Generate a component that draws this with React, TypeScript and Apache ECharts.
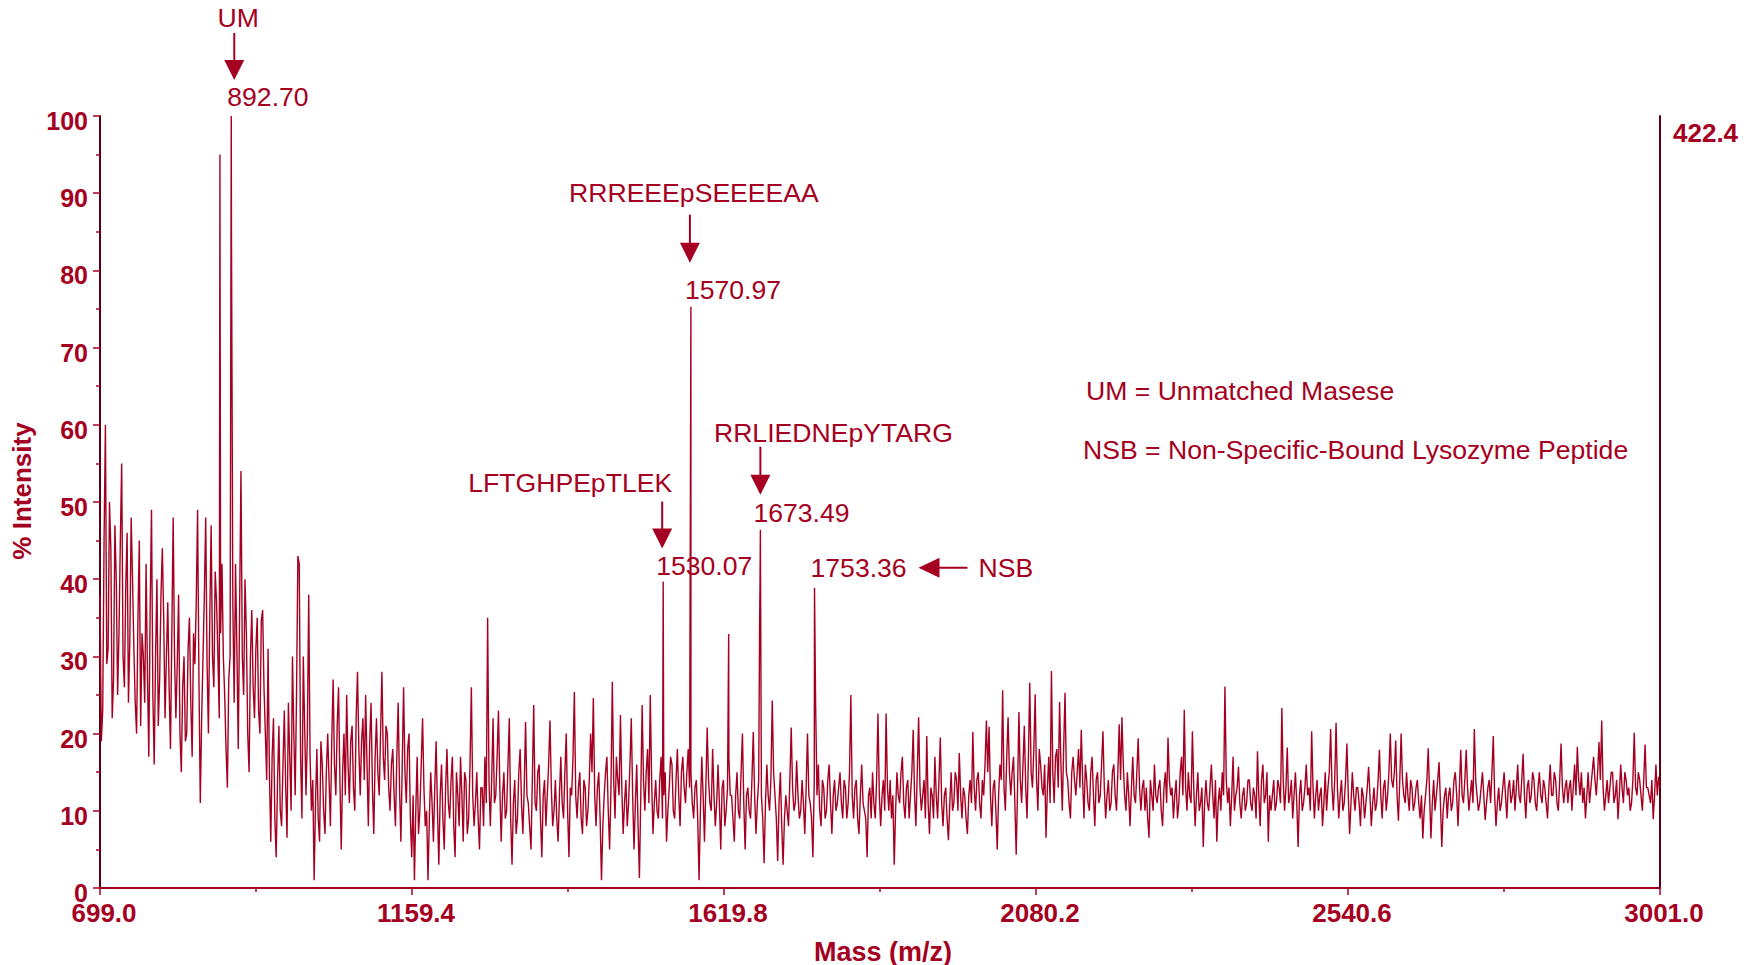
import { useEffect, useRef } from 'react';
import * as echarts from 'echarts';

// Spectrum sampling: two interleaved grids, 699 + 4k and 701 + 4k (m/z)
const GRID_A_START = 699;
const GRID_B_START = 701;
const GRID_STEP = 4;
const MASS_MIN = 699.0;
const MASS_MAX = 3001.0;
const MASS_TICK = 460.4;
const FULL_SCALE_COUNTS = 422.4;

// % intensity on grid A, 699 – 1079 m/z
const gridA699 = [
  38, 23, 60, 31, 44, 27, 40, 33, 55, 26, 46, 32,
  40, 24, 35, 21, 30, 42, 17, 49, 16, 40, 27, 44,
  22, 37, 18, 48, 22, 38, 15, 30, 20, 35, 17, 29,
  49, 11, 30, 48, 20, 47, 26, 37, 22, 42, 25, 13,
  30, 37, 42, 18, 54, 25, 33, 15, 36, 22, 35, 20,
  36, 20, 31, 6, 22, 4, 21, 8, 23, 6.5, 17, 30,
  12, 43, 17, 30, 12, 38, 10, 1, 18, 6, 16, 7,
  20, 8, 27, 12, 26, 5, 20, 25, 11, 21, 10, 28,
];
// grid A, 1083 – 1463 m/z
const gridA1083 = [
  12, 22, 25, 8, 24, 7, 22, 12, 28, 14, 20, 10,
  18, 8, 24, 6, 26, 11, 20, 4, 1, 17, 10, 22,
  8, 1, 15, 6, 19, 3, 16, 5, 18, 9, 17, 4,
  12, 17, 6, 14, 9, 26, 8, 15, 5, 13, 17, 35,
  8, 22, 12, 23, 6, 15, 10, 22, 3, 14, 9, 18,
  7, 21.5, 11, 5, 23.7, 10, 16, 4, 14, 12, 21.7, 8,
  14, 6, 17, 9, 20, 4, 12, 25.4, 9, 15, 7, 13,
  10, 20, 24.6, 8, 15, 1, 12, 17, 5, 26.7, 9, 14,
];
// grid A, 1467 – 1847 m/z
const gridA1467 = [
  22.4, 7, 14, 11, 22, 5, 16, 1.3, 23.7, 10, 18, 25,
  7, 14, 9, 17, 12, 6, 13, 16, 9, 18, 8, 17,
  11, 18, 15, 9, 14, 1, 17, 6, 20.8, 11, 18, 8,
  16, 5, 14, 10, 17, 12, 6, 15, 9, 20, 5, 13,
  9, 20.2, 7, 14, 12, 3.2, 16, 10, 24.3, 12, 3.5, 15,
  3, 12, 8, 20.8, 10, 16.5, 9, 14, 7, 20, 11, 4,
  23.9, 16, 8, 13, 10, 16, 7, 14, 11, 15, 9, 13,
  11, 25, 9, 14, 7, 16, 10, 4, 13, 15, 9, 22.6,
];
// grid A, 1851 – 2231 m/z
const gridA1851 = [
  8, 14, 22.6, 10, 9, 3, 15, 11, 17, 9, 14, 12,
  20.5, 8, 22.1, 10, 14, 19.7, 7, 12, 17, 9, 19.5, 8,
  13, 6.2, 15, 11, 14, 17.5, 9, 12, 7, 14, 20.2, 10,
  15, 9, 12, 21.7, 20.9, 8, 14, 5, 16, 25.6, 10, 22.1,
  12, 17, 4.3, 22.8, 11, 21, 9, 26.6, 13, 25.1, 10, 16,
  12, 6.5, 17, 28.1, 11, 18, 24.1, 10, 25.3, 14, 9, 17,
  12, 18, 20.5, 9, 14, 10, 17, 8, 15, 12, 20.3, 9,
  14, 11, 16, 10, 21.2, 22.1, 12, 15, 8, 17, 11, 19.4,
];
// grid A, 2235 – 2615 m/z
const gridA2235 = [
  10, 14, 13, 6.5, 12, 16, 11, 14, 8, 15, 19.5, 12,
  9, 14, 11, 17, 23.1, 10, 12, 20.3, 8, 15, 11, 5.3,
  14, 10, 16, 9, 6, 13, 15, 26.1, 11, 8, 17, 12,
  15.7, 9, 13, 11, 14, 10, 12, 17.7, 8, 16, 12, 6,
  10, 14, 11, 13, 23.3, 10, 18.2, 12, 9, 15, 5.3, 14,
  11, 16, 13, 20.3, 9, 14, 12, 8, 15, 13, 20.6, 10,
  21.4, 9, 14, 11, 18.7, 7, 15, 10, 13, 8, 12, 11,
  15.7, 8, 13, 11, 17.9, 9, 14, 12, 20, 13, 19.1, 8.7,
];
// grid A, 2619 – 2999 m/z
const gridA2619 = [
  20, 12, 15, 10, 13, 11, 14, 9, 6.4, 12, 18.1, 6.4,
  14, 12, 16.3, 5.3, 12, 9, 13, 11, 15, 8, 17.9, 11,
  17.9, 10, 14, 20.6, 12, 11, 15, 8.8, 13, 11, 19.7, 8,
  13, 11, 15, 9, 14, 12, 10, 16, 11, 17.4, 9, 14,
  12, 14, 10, 15, 11, 13, 9, 16, 12, 14, 10, 18.7,
  11, 14, 13, 10, 16, 18.3, 12, 11, 9, 15, 13, 17,
  12, 18.9, 21.7, 10, 14, 13, 15, 12, 8.9, 16, 11, 14,
  13, 11, 20.1, 12, 14, 10, 18.6, 13, 11, 8.9, 16, 14.4,
];

// % intensity on grid B, 701 – 1081 m/z
const gridB701 = [
  19, 45, 29, 50, 22, 47, 25, 45, 30, 39, 24, 48,
  31, 20, 45, 33, 24, 28, 36, 25, 30, 21, 38, 35,
  30, 26, 33, 30, 29, 20, 26, 19, 31, 24, 33, 37,
  27, 22, 38, 29, 35, 30, 41, 30, 33, 30, 18, 27,
  85, 24, 31, 36, 30, 40, 20, 30, 26, 31, 23, 34.6,
  26, 14, 15, 17, 9, 14, 10, 16, 13, 24, 10, 20,
  25, 42, 9, 21, 20, 17, 14, 11, 9, 19, 10, 15,
  14, 19, 16, 21, 14, 15, 12, 16, 19, 13, 22, 18,
];
// grid B, 1085 – 1465 m/z
const gridB1085 = [
  19, 14, 16, 19, 13, 17, 15, 20, 17, 21, 13, 16,
  12, 17, 13, 16, 15, 18, 9, 12, 10, 7, 16, 13,
  10, 9, 11, 13, 10, 12, 9, 13, 11, 14, 8, 15,
  8, 12, 15, 7, 16, 12, 11, 9, 13, 8, 11, 14,
  14, 11, 17, 13, 12, 9, 16, 9, 11, 7, 15, 11,
  13, 12, 8, 14, 11, 15, 9, 12, 8, 16, 13, 10,
  9, 12, 11, 15, 10, 13, 17, 12, 13, 9, 14, 8,
  14, 15, 12, 13, 9, 8, 15, 10, 13, 14, 17, 12,
];
// grid B, 1469 – 1849 m/z
const gridB1469 = [
  13, 11, 8, 16, 12, 11, 8, 12, 14, 15, 11, 14,
  11, 10, 14, 9, 15, 10, 17, 10, 14, 12, 15, 13,
  15, 13, 11, 13, 9, 10, 12, 13, 14, 10, 12, 11,
  11, 13, 8, 13, 12, 9, 12, 10, 15, 11, 12, 10,
  14, 12, 11, 40, 9, 11, 12, 14, 15, 9, 11, 8,
  9, 10, 14, 13, 11, 12, 10, 11, 13, 12, 9, 14,
  12, 10, 14, 9, 14, 11, 12, 10, 13, 11, 14, 9,
  15, 12, 13, 9, 12, 11, 9, 12, 9, 11, 14, 12,
];
// grid B, 1853 – 2233 m/z
const gridB1853 = [
  12, 10, 13, 14, 12, 10, 12, 15, 11, 13, 9, 15,
  12, 15, 13, 12, 9, 11, 13, 9, 12, 14, 11, 12,
  9, 11, 10, 15, 10, 12, 13, 9, 12, 11, 13, 14,
  11, 14, 16, 15, 12, 13, 10, 12, 14, 13, 17, 15,
  15, 11, 13, 14, 16, 13, 17, 15, 18, 14, 18, 13,
  16, 13, 11, 15, 17, 13, 16, 18, 15, 11, 15, 14,
  15, 13, 14, 16, 11, 15, 12, 14, 11, 16, 13, 12,
  10, 15, 12, 15, 14, 16, 10, 12, 13, 12, 15, 13,
];
// grid B, 2237 – 2617 m/z
const gridB2237 = [
  13, 10, 9, 14, 10, 12, 13, 10, 13, 11, 14, 13,
  12, 9, 15, 12, 13, 15, 11, 13, 12, 10, 13, 11,
  11, 13, 12, 14, 11, 10, 12, 14, 13, 12, 10, 13,
  11, 12, 10, 14, 11, 13, 9, 12, 14, 11, 15, 12,
  12, 10, 14, 11, 14, 13, 11, 14, 12, 11, 12, 10,
  13, 12, 10, 13, 12, 10, 13, 11, 10, 15, 13, 14,
  13, 12, 10, 14, 12, 11, 12, 13, 11, 13, 9, 13,
  12, 11, 10, 14, 12, 13, 10, 15, 14, 15, 12, 14,
];
// grid B, 2621 – 3001 m/z
const gridB2621 = [
  14, 11, 12, 14, 10, 13, 11, 12, 10, 14, 12, 11,
  10, 14, 11, 10, 13, 12, 10, 14, 12, 13, 12, 14,
  13, 12, 11, 14, 10, 13, 12, 11, 14, 15, 12, 11,
  10, 13, 12, 13, 11, 14, 13, 12, 14, 12, 13, 11,
  15, 11, 13, 12, 14, 11, 13, 12, 15, 11, 14, 13,
  13, 11, 14, 13, 12, 14, 15, 13, 12, 11, 15, 14,
  15, 14, 13, 12, 11, 15, 11, 14, 12, 13, 15, 12,
  10, 14, 13, 15, 12, 14, 13, 12, 14, 12, 12, 13,
];

// Unlabelled sharp peaks: [m/z, % intensity]
const extraPeaks: [number, number][] = [
  [876.0, 95],
  [1626.7, 32.9],
  [1672.4, 34.7],
];

// Annotated peaks
const peakMasses = [892.7, 1570.97, 1530.07, 1673.49, 1753.36];
const peakIntensities = [100, 75.3, 39.7, 46.4, 38.9];
const peakNames = ['UM', 'RRREEEpSEEEEAA', 'LFTGHPEpTLEK', 'RRLIEDNEpYTARG', 'NSB'];

const legendLines = ['UM = Unmatched Masese', 'NSB = Non-Specific-Bound Lysozyme Peptide'];

const RED = '#a50021';
const DARK = '#5a0012';
const FONT = '"Liberation Sans", Arial, Helvetica, sans-serif';
const NOTE_SIZE = 26.6;

// Callout geometry relative to each peak's apex (pixels)
type Callout = {
  valueDx: number;
  valueDy: number;
  arrow: { dir: 'down'; dx: number; top: number; tip: number } | { dir: 'left'; dy: number; tip: number; tail: number };
  nameDx: number;
  nameDy: number;
  nameAlign: 'left' | 'center';
};
const calloutLayout: Callout[] = [
  { valueDx: -4, valueDy: -19, arrow: { dir: 'down', dx: 3, top: -83, tip: -36 }, nameDx: 7, nameDy: -98, nameAlign: 'center' },
  { valueDx: -6, valueDy: -17, arrow: { dir: 'down', dx: -1, top: -92, tip: -44 }, nameDx: 3, nameDy: -114, nameAlign: 'center' },
  { valueDx: -7, valueDy: -16, arrow: { dir: 'down', dx: -1, top: -80, tip: -33 }, nameDx: -93, nameDy: -99, nameAlign: 'center' },
  { valueDx: -7, valueDy: -17, arrow: { dir: 'down', dx: 0, top: -83, tip: -35 }, nameDx: 73, nameDy: -97, nameAlign: 'center' },
  { valueDx: -4, valueDy: -20, arrow: { dir: 'left', dy: -20, tip: 104, tail: 153 }, nameDx: 164, nameDy: -20, nameAlign: 'left' },
];

function buildSpectrum(): [number, number][] {
  const gridA = [...gridA699, ...gridA1083, ...gridA1467, ...gridA1851, ...gridA2235, ...gridA2619];
  const gridB = [...gridB701, ...gridB1085, ...gridB1469, ...gridB1853, ...gridB2237, ...gridB2621];
  const pts: [number, number][] = [];
  gridA.forEach((v, i) => pts.push([GRID_A_START + i * GRID_STEP, v]));
  gridB.forEach((v, i) => pts.push([GRID_B_START + i * GRID_STEP, v]));
  extraPeaks.forEach((p) => pts.push([p[0], p[1]]));
  peakMasses.forEach((m, i) => pts.push([m, peakIntensities[i]]));
  pts.sort((a, b) => a[0] - b[0]);
  return pts;
}

function buildCallouts(chart: echarts.ECharts) {
  const els: any[] = [];
  const textStyle = { fill: RED, fontSize: NOTE_SIZE, fontFamily: FONT };
  peakMasses.forEach((m, i) => {
    const [px, py] = chart.convertToPixel({ xAxisIndex: 0, yAxisIndex: 0 }, [m, peakIntensities[i]]) as number[];
    const L = calloutLayout[i];
    els.push({
      type: 'text',
      x: px + L.valueDx,
      y: py + L.valueDy,
      style: { ...textStyle, text: m.toFixed(2), align: 'left', verticalAlign: 'middle' },
    });
    els.push({
      type: 'text',
      x: px + L.nameDx,
      y: py + L.nameDy,
      style: { ...textStyle, text: peakNames[i], align: L.nameAlign, verticalAlign: 'middle' },
    });
    const a = L.arrow;
    if (a.dir === 'down') {
      const ax = px + a.dx;
      const tip = py + a.tip;
      els.push({ type: 'line', shape: { x1: ax, y1: py + a.top, x2: ax, y2: tip - 16 }, style: { stroke: RED, lineWidth: 2 } });
      els.push({ type: 'polygon', shape: { points: [[ax - 10, tip - 20], [ax + 10, tip - 20], [ax, tip]] }, style: { fill: RED } });
    } else {
      const ay = py + a.dy;
      const tip = px + a.tip;
      els.push({ type: 'line', shape: { x1: tip + 16, y1: ay, x2: px + a.tail, y2: ay }, style: { stroke: RED, lineWidth: 2 } });
      els.push({ type: 'polygon', shape: { points: [[tip, ay], [tip + 21, ay - 10], [tip + 21, ay + 10]] }, style: { fill: RED } });
    }
  });
  legendLines.forEach((t, i) => {
    els.push({
      type: 'text',
      x: i === 0 ? 1086 : 1083,
      y: i === 0 ? 391 : 450,
      style: { ...textStyle, text: t, align: 'left', verticalAlign: 'middle' },
    });
  });
  return els;
}

export default function App() {
  const ref = useRef<HTMLDivElement>(null);
  useEffect(() => {
    const el = ref.current;
    if (!el) return;
    const chart = echarts.init(el, undefined, { renderer: 'svg' });
    const boldLabel = { color: RED, fontSize: 26, fontWeight: 'bold' as const, fontFamily: FONT };
    chart.setOption({
      animation: false,
      backgroundColor: '#ffffff',
      grid: { left: 100, right: 93, top: 116, bottom: 77, containLabel: false, outerBoundsMode: 'none' },
      xAxis: {
        type: 'value',
        min: MASS_MIN,
        max: MASS_MAX,
        interval: MASS_TICK,
        name: 'Mass (m/z)',
        nameLocation: 'middle',
        nameGap: 50,
        nameTextStyle: { ...boldLabel, fontSize: 27, padding: [0, 0, 0, 6] },
        axisLine: { show: true, onZero: false, lineStyle: { color: RED, width: 2 } },
        axisTick: { show: true, length: 7, lineStyle: { color: RED, width: 1.5 } },
        minorTick: { show: true, splitNumber: 2, length: 4, lineStyle: { color: RED, width: 1.5 } },
        axisLabel: {
          ...boldLabel,
          margin: 15,
          lineHeight: 20,
          padding: [0, 0, 0, 8],
          formatter: (v: number) => v.toFixed(1),
        },
        splitLine: { show: false },
      },
      yAxis: [
        {
          type: 'value',
          min: 0,
          max: 100,
          interval: 10,
          name: '% Intensity',
          nameLocation: 'middle',
          nameRotate: 90,
          nameGap: 64,
          nameTextStyle: { ...boldLabel, padding: [0, 0, 0, 22] },
          axisLine: { show: true, lineStyle: { color: DARK, width: 2 } },
          axisTick: { show: true, length: 7, lineStyle: { color: RED, width: 1.5 } },
          minorTick: { show: true, splitNumber: 2, length: 4, lineStyle: { color: RED, width: 1.5 } },
          axisLabel: { ...boldLabel, fontSize: 25, margin: 12, verticalAlign: 'top', lineHeight: 10 },
          splitLine: { show: false },
        },
        {
          type: 'value',
          position: 'right',
          min: 0,
          max: FULL_SCALE_COUNTS,
          interval: FULL_SCALE_COUNTS,
          axisLine: { show: true, lineStyle: { color: DARK, width: 2 } },
          axisTick: { show: false },
          axisLabel: {
            ...boldLabel,
            margin: 13,
            verticalAlign: 'top',
            padding: [4, 0, 0, 0],
            formatter: (v: number) => (v > 0 ? v.toFixed(1) : ''),
          },
          splitLine: { show: false },
        },
      ],
      series: [
        {
          type: 'line',
          xAxisIndex: 0,
          yAxisIndex: 0,
          data: buildSpectrum(),
          symbol: 'none',
          showSymbol: false,
          lineStyle: { color: RED, width: 1.4 },
          clip: true,
        },
      ],
    });
    chart.setOption({ graphic: buildCallouts(chart) });
    return () => chart.dispose();
  }, []);
  return (
    <div
      ref={ref}
      style={{ position: 'fixed', left: 0, top: 0, width: 1753, height: 965, background: '#fff' }}
    />
  );
}
